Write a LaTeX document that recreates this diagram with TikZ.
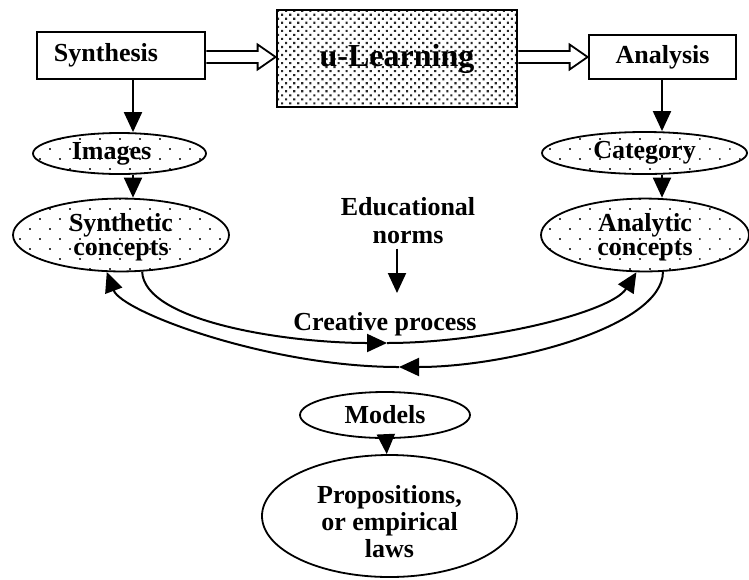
\documentclass[tikz,border=0pt]{standalone}
\usepackage{fontspec}
\setmainfont{Liberation Serif}
\usetikzlibrary{shapes.geometric,arrows.meta,patterns.meta,calc}

\tikzset{
  box/.style={draw, line width=1.4pt, inner sep=0pt, font=\fontsize{13}{15}\selectfont\bfseries},
  oval/.style={ellipse, draw, line width=0.9pt, inner sep=0pt, align=center, font=\fontsize{13}{12}\selectfont\bfseries},
  speckle/.style={pattern={Dots[angle=45,distance=7.07pt,radius=0.6pt]}, pattern color=black!75},
  plaintext/.style={inner sep=2pt, align=center, font=\fontsize{13}{14}\selectfont\bfseries},
  flow/.style={-{Triangle[length=10pt,width=9pt]}, line width=1pt},
  hollow/.style={line width=0.9pt, line join=miter}
}

\begin{document}
\begin{tikzpicture}[x=0.5pt,y=-0.5pt]
\useasboundingbox (0,0) rectangle (749,579);

% top row
\node [box, minimum width=84pt, minimum height=23.5pt] (synth) at (121,55.5) {Synthesis\hspace*{15pt}};
\node [box, minimum width=120pt, minimum height=48.5pt,
       pattern={Dots[angle=45,distance=2.85pt,radius=0.75pt]}, pattern color=black!85,
       font=\fontsize{16}{18}\selectfont\bfseries] (ulearn) at (397,58.5) {u-Learning};
\node [box, minimum width=73.5pt, minimum height=22pt] (analysis) at (662.5,57) {Analysis};

\coordinate (h1s) at (synth.east |- 0,57);
\coordinate (h1e) at (ulearn.west |- 0,57);
\draw [hollow] ($(h1s)+(0,-6)$) -- ($(h1e)+(-18,-6)$) -- ($(h1e)+(-18,-12.5)$) -- (h1e)
  -- ($(h1e)+(-18,12.5)$) -- ($(h1e)+(-18,6)$) -- ($(h1s)+(0,6)$);

\coordinate (h2s) at (ulearn.east |- 0,57);
\coordinate (h2e) at (analysis.west |- 0,57);
\draw [hollow] ($(h2s)+(0,-6)$) -- ($(h2e)+(-18,-6)$) -- ($(h2e)+(-18,-12.5)$) -- (h2e)
  -- ($(h2e)+(-18,12.5)$) -- ($(h2e)+(-18,6)$) -- ($(h2s)+(0,6)$);

% concepts
\node [oval, speckle, minimum width=86.5pt, minimum height=20.5pt] (images) at (119.5,153.5) {Images\hspace*{8pt}};
\node [oval, speckle, minimum width=102.5pt, minimum height=21pt] (category) at (644.5,153) {Category};
\node [oval, speckle, minimum width=108pt, minimum height=36pt] (synconc) at (121,235) {\rule{0pt}{11pt}Synthetic\\concepts};
\node [oval, speckle, minimum width=104pt, minimum height=36pt] (anaconc) at (645,235) {\rule{0pt}{11pt}Analytic\\concepts};

\coordinate (leftline) at ([xshift=6pt]synth.south);
\coordinate (rightline) at ([xshift=-0.25pt]analysis.south);
\draw [flow] (leftline) -- (leftline |- images.north);
\draw [flow] (leftline |- images.south) -- (leftline |- synconc.north);
\draw [flow] (rightline) -- (rightline |- category.north);
\draw [flow] (rightline |- category.south) -- (rightline |- anaconc.north);

% middle
\node [plaintext] (norms) at (408,221) {Educational\\norms};
\coordinate (normsend) at (397,293);
\draw [flow] (normsend |- norms.south) -- (normsend);

\node [plaintext] (creative) at (385,324) {Creative process};

\coordinate (fwd) at (387,343);
\coordinate (back) at (399,367);
\draw [flow] (synconc.-60) .. controls +(2,50) and +(-100,0) .. (fwd);
\draw [flow] (fwd) .. controls +(100,0) and +(-25,40) .. (anaconc.-103);
\draw [flow] (anaconc.-64) .. controls +(0,55) and +(110,0) .. (back);
\draw [flow] (back) .. controls +(-130,0) and +(15,40) .. (synconc.-111);

% bottom
\node [oval, minimum width=85pt, minimum height=23pt] (models) at (385,415) {Models};
\node [oval, minimum width=127.5pt, minimum height=61pt, font=\fontsize{13}{13.5}\selectfont\bfseries]
  (props) at (389.5,516) {\rule{0pt}{15pt}Propositions,\\or empirical\\laws};
\draw [flow] (models) -- (props);

\end{tikzpicture}
\end{document}
